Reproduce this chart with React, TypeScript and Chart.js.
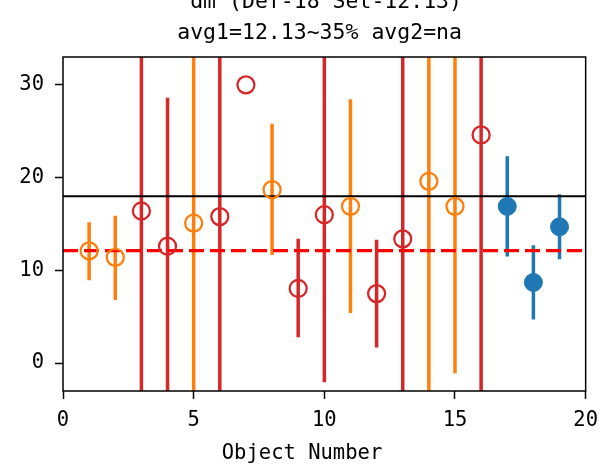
import React, { useEffect, useRef } from "react";
import { Chart, registerables } from "chart.js";

Chart.register(...registerables);

const objNum = [1, 2, 3, 4, 5, 6, 7, 8, 9, 10, 11, 12, 13, 14, 15, 16, 17, 18, 19];
const values = [12.1, 11.4, 16.4, 12.6, 15.1, 15.8, 30.0, 18.7, 8.05, 16.0, 16.9, 7.5, 13.4, 19.6, 16.9, 24.6, 16.9, 8.7, 14.7];
const errLow = [8.95, 6.8, -20, -20, -20, -20, null, 11.65, 2.8, -2.05, 5.4, 1.7, -20, -20, -1.1, -20, 11.5, 4.7, 11.2];
const errHigh = [15.2, 15.9, 50, 28.6, 50, 50, null, 25.8, 13.4, 50, 28.45, 13.3, 50, 50, 50, 50, 22.3, 12.7, 18.2];
const group = ["o", "o", "r", "r", "o", "r", "r", "o", "r", "r", "o", "r", "r", "o", "o", "r", "b", "b", "b"];
const xTicks = [0, 5, 10, 15, 20];
const yTicks = [0, 10, 20, 30];
const refLine = 18;
const avgLine = 12.13;
const titleLines = ["dm (Def-18 Set-12.13)", "avg1=12.13~35% avg2=na"];
const xLabel = "Object Number";

const COLORS: Record<string, string> = { o: "#ff7f0e", r: "#d62728", b: "#1f77b4" };
const FONT = "'DejaVu Sans Mono', 'Liberation Mono', monospace";

const errorBarPlugin = {
  id: "errorBars",
  beforeDatasetsDraw(chart: any) {
    const { ctx, chartArea, scales } = chart;
    ctx.save();
    ctx.beginPath();
    ctx.rect(chartArea.left, chartArea.top, chartArea.right - chartArea.left, chartArea.bottom - chartArea.top);
    ctx.clip();
    ctx.lineWidth = 3.5;
    for (let i = 0; i < objNum.length; i++) {
      const lo = errLow[i];
      const hi = errHigh[i];
      if (lo == null || hi == null) continue;
      const x = scales.x.getPixelForValue(objNum[i]);
      ctx.strokeStyle = COLORS[group[i]];
      ctx.beginPath();
      ctx.moveTo(x, scales.y.getPixelForValue(lo));
      ctx.lineTo(x, scales.y.getPixelForValue(hi));
      ctx.stroke();
    }
    ctx.restore();
  },
};

const framePlugin = {
  id: "frame",
  afterDraw(chart: any) {
    const { ctx, chartArea } = chart;
    ctx.save();
    ctx.strokeStyle = "#000";
    ctx.lineWidth = 1.5;
    ctx.strokeRect(chartArea.left, chartArea.top, chartArea.right - chartArea.left, chartArea.bottom - chartArea.top);
    ctx.fillStyle = "#000";
    ctx.font = `21.5px ${FONT}`;
    ctx.textAlign = "right";
    ctx.textBaseline = "alphabetic";
    ctx.fillText(titleLines[0], 462, 7.5);
    ctx.fillText(titleLines[1], 462, 39);
    ctx.font = `20.5px ${FONT}`;
    ctx.textAlign = "center";
    ctx.fillText(xLabel, 302, 459);
    ctx.restore();
  },
};

function pts(g: string) {
  const out: { x: number; y: number }[] = [];
  for (let i = 0; i < objNum.length; i++) {
    if (group[i] === g) out.push({ x: objNum[i], y: values[i] });
  }
  return out;
}

export default function App() {
  const ref = useRef<HTMLCanvasElement | null>(null);
  useEffect(() => {
    if (!ref.current) return;
    const tickFont = { family: FONT, size: 20.5 };
    const chart = new Chart(ref.current, {
      type: "scatter",
      data: {
        datasets: [
          {
            data: pts("b"),
            backgroundColor: COLORS.b,
            borderColor: COLORS.b,
            borderWidth: 1,
            pointRadius: 9,
          },
          {
            data: pts("o"),
            backgroundColor: "rgba(0,0,0,0)",
            borderColor: COLORS.o,
            borderWidth: 2.3,
            pointRadius: 8.5,
          },
          {
            data: pts("r"),
            backgroundColor: "rgba(0,0,0,0)",
            borderColor: COLORS.r,
            borderWidth: 2.3,
            pointRadius: 8.5,
          },
          {
            type: "line",
            data: [
              { x: xTicks[0], y: refLine },
              { x: xTicks[xTicks.length - 1], y: refLine },
            ],
            borderColor: "#000",
            borderWidth: 2,
            pointRadius: 0,
          } as any,
          {
            type: "line",
            data: [
              { x: xTicks[0], y: avgLine },
              { x: xTicks[xTicks.length - 1], y: avgLine },
            ],
            borderColor: "#ff0000",
            borderWidth: 3.2,
            borderDash: [15, 6],
            pointRadius: 0,
          } as any,
        ],
      },
      options: {
        animation: false,
        responsive: false,
        devicePixelRatio: 1,
        layout: { padding: { top: 57, right: 18, left: 0, bottom: 0 } },
        plugins: { legend: { display: false }, tooltip: { enabled: false } },
        scales: {
          x: {
            type: "linear",
            min: 0,
            max: 20,
            afterBuildTicks: (s: any) => {
              s.ticks = xTicks.map((v) => ({ value: v }));
            },
            afterFit: (s: any) => {
              s.height = 75;
            },
            border: { display: false },
            grid: { drawOnChartArea: false, drawTicks: true, tickLength: 8, tickColor: "#000", tickWidth: 1.5 },
            ticks: { font: tickFont, color: "#000", padding: 9, maxRotation: 0 },
          },
          y: {
            type: "linear",
            min: -3,
            max: 33,
            afterBuildTicks: (s: any) => {
              s.ticks = yTicks.map((v) => ({ value: v }));
            },
            afterFit: (s: any) => {
              s.width = 63;
            },
            border: { display: false },
            grid: { drawOnChartArea: false, drawTicks: true, tickLength: 8, tickColor: "#000", tickWidth: 1.5 },
            ticks: { font: tickFont, color: "#000", padding: 11 },
          },
        },
      },
      plugins: [errorBarPlugin, framePlugin],
    } as any);
    return () => chart.destroy();
  }, []);
  return (
    <div style={{ position: "fixed", left: 0, top: 0, width: 607, height: 466, background: "#fff" }}>
      <canvas ref={ref} width={607} height={466} />
    </div>
  );
}
